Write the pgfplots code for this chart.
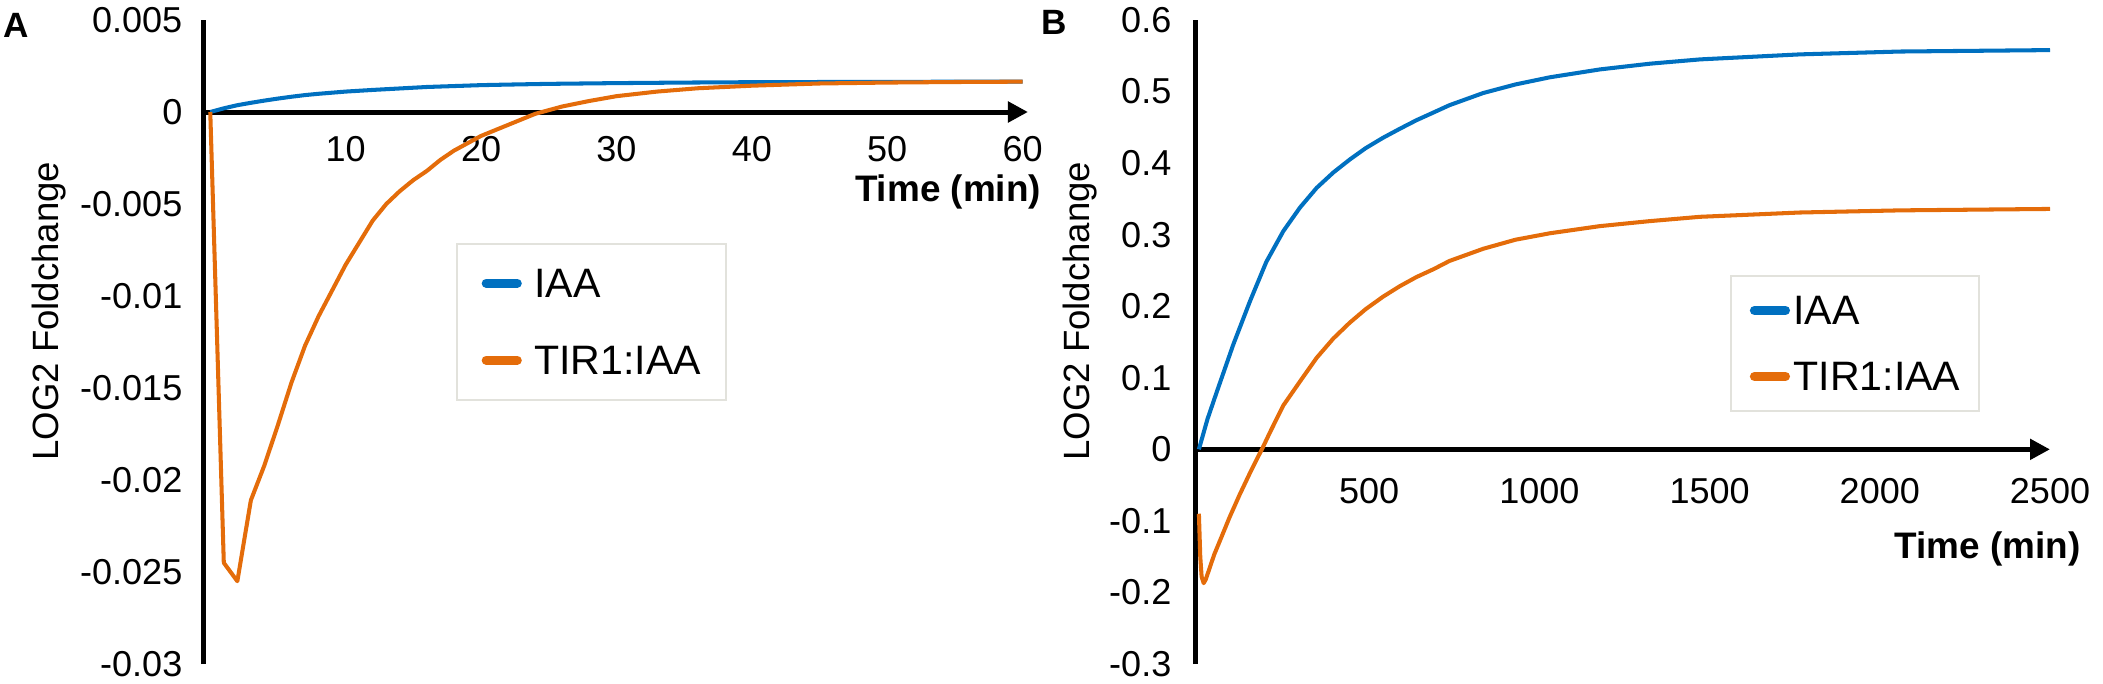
\documentclass[border=0pt]{standalone}
\usepackage{fontspec}
\setmainfont{Liberation Sans}
\usepackage{pgfplots}
\pgfplotsset{compat=1.18}
\usetikzlibrary{arrows.meta}

\definecolor{iaablue}{RGB}{0,112,192}
\definecolor{tirorange}{RGB}{228,108,10}
\definecolor{legframe}{RGB}{226,226,220}

\newcommand\tickfont{\fontsize{10.25}{12}\selectfont}
\newcommand\labfont{\fontsize{10.4}{12}\selectfont}
\newcommand\legfont{\fontsize{11.7}{13}\selectfont}

\pgfplotsset{
  excel/.style={
    scale only axis,
    clip=false,
    axis x line=middle, axis y line=left,
    hide obscured x ticks=false, hide obscured y ticks=false,
    x axis line style={line width=1.42pt, -{Triangle[length=2mm,width=2mm]}},
    y axis line style={line width=1.42pt, -},
    major tick length=0pt,
    tick label style={font=\tickfont, inner sep=0pt},
    every axis plot/.append style={line width=1.15pt, line join=round},
    legend image code/.code={\draw[##1, line width=2.6pt, line cap=round] (0.45mm,0mm) -- (3.55mm,0mm);},
    legend cell align=left,
  }
}

\begin{document}
\begin{tikzpicture}
\useasboundingbox (0,0) rectangle (210.3mm,68.3mm);

% ---------------- Panel A ----------------
\begin{axis}[excel,
  at={(20.35mm,1.9mm)}, anchor=south west,
  width=82.45mm, height=64.4mm,
  xmin=-0.5, xmax=60.4, ymin=-0.03, ymax=0.005,
  xtick={10,20,30,40,50,60}, xticklabels={10,20,30,40,50,60},
  ytick={-0.03,-0.025,-0.02,-0.015,-0.01,-0.005,0,0.005},
  yticklabels={-0.03,-0.025,-0.02,-0.015,-0.01,-0.005,{0\hspace{0.8mm}},0.005},
  xticklabel style={anchor=center, yshift=-3.7mm},
  yticklabel style={anchor=east, xshift=-2.05mm},
  xlabel={\textbf{Time (min)}},
  ylabel={LOG2 Foldchange},
  every axis x label/.style={at={(axis description cs:0.903,0.733)}, anchor=center, font=\fontsize{10.5}{12}\selectfont},
  every axis y label/.style={at={(axis description cs:-0.1874,0.548)}, rotate=90, anchor=center, font=\labfont},
  legend style={at={(axis description cs:0.306,0.654)}, anchor=north west,
    draw=legframe, line width=0.5pt, inner xsep=2.5mm, inner ysep=2.5mm,
    font=\legfont, row sep=4.8mm, column sep=1.25mm,
    nodes={inner sep=0pt, text height=2.9mm, text depth=0pt}},
]
\addplot[color=iaablue] coordinates {
(0,0) (1,0.0002) (2,0.00037) (3,0.0005) (4,0.00062) (5,0.00073) (6,0.00083)
(7,0.00092) (8,0.00099) (10,0.00111) (12,0.0012) (14,0.00128) (16,0.00136)
(18,0.00141) (20,0.00146) (22,0.00149) (25,0.00153) (30,0.00157) (35,0.0016)
(40,0.00162) (50,0.00164) (60,0.00165)
};
\addlegendentry{IAA}
\addplot[color=tirorange] coordinates {
(0,0) (1,-0.0245) (2,-0.0255) (3,-0.0211) (4,-0.0192) (5,-0.0170) (6,-0.0147)
(7,-0.0127) (8,-0.0111) (9,-0.0097) (10,-0.0083) (11,-0.0071) (12,-0.0059)
(13,-0.0050) (14,-0.0043) (15,-0.0037) (16,-0.0032) (17,-0.0026) (18,-0.0021)
(19,-0.0017) (20,-0.0013) (22,-0.0007) (24,-0.0001) (26,0.0003) (28,0.0006)
(30,0.00086) (33,0.00111) (36,0.00129) (40,0.00143) (45,0.00155) (50,0.0016)
(55,0.00163) (60,0.00165)
};
\addlegendentry{TIR1:IAA}
\node[font=\bfseries\fontsize{10}{12}\selectfont] at (axis description cs:-0.2274,0.992) {A};
\end{axis}

% ---------------- Panel B ----------------
\begin{axis}[excel,
  at={(119.55mm,1.9mm)}, anchor=south west,
  width=85.45mm, height=64.4mm,
  xmin=-10, xmax=2500, ymin=-0.3, ymax=0.6,
  xtick={500,1000,1500,2000,2500}, xticklabels={500,1000,1500,2000,2500},
  ytick={-0.3,-0.2,-0.1,0,0.1,0.2,0.3,0.4,0.5,0.6},
  yticklabels={-0.3,-0.2,-0.1,{0\hspace{2.9mm}},0.1,0.2,0.3,0.4,0.5,0.6},
  xticklabel style={anchor=center, yshift=-4.2mm},
  yticklabel style={anchor=east, xshift=-2.35mm},
  xlabel={\textbf{Time (min)}},
  ylabel={LOG2 Foldchange},
  every axis x label/.style={at={(axis description cs:0.927,0.1786)}, anchor=center, font=\fontsize{10.5}{12}\selectfont},
  every axis y label/.style={at={(axis description cs:-0.1352,0.548)}, rotate=90, anchor=center, font=\labfont},
  legend style={at={(axis description cs:0.6255,0.604)}, anchor=north west,
    draw=legframe, line width=0.5pt, inner xsep=1.9mm, inner ysep=2.0mm,
    font=\legfont, row sep=3.7mm, column sep=0.35mm,
    nodes={inner sep=0pt, text height=2.9mm, text depth=0pt}},
]
\addplot[color=iaablue] coordinates {
(0,0) (25,0.042) (52,0.0796) (101,0.1465) (150,0.207) (198,0.262) (248,0.305)
(297,0.338) (346,0.3655) (395,0.387) (443,0.405) (490,0.421) (541,0.4355)
(590,0.448) (639,0.46) (690,0.471) (736,0.481) (835,0.498) (930,0.510)
(1031,0.520) (1178,0.531) (1325,0.539) (1472,0.545) (1765,0.552) (2060,0.556)
(2500,0.558)
};
\addlegendentry{IAA}
\addplot[color=tirorange] coordinates {
(0,-0.09) (4,-0.15) (8,-0.178) (14,-0.187) (20,-0.182) (30,-0.168) (45,-0.147)
(65,-0.124) (90,-0.095) (120,-0.063) (150,-0.033) (172,-0.012) (185,0)
(210,0.025) (248,0.0614) (300,0.097) (346,0.128) (395,0.155) (443,0.177)
(490,0.196) (541,0.2134) (590,0.228) (639,0.2408) (690,0.252) (736,0.2633)
(835,0.2803) (930,0.293) (1031,0.302) (1178,0.312) (1325,0.319) (1472,0.325)
(1765,0.331) (2060,0.334) (2500,0.336)
};
\addlegendentry{TIR1:IAA}
\node[font=\bfseries\fontsize{10}{12}\selectfont] at (axis description cs:-0.1656,0.997) {B};
\end{axis}
\end{tikzpicture}
\end{document}
